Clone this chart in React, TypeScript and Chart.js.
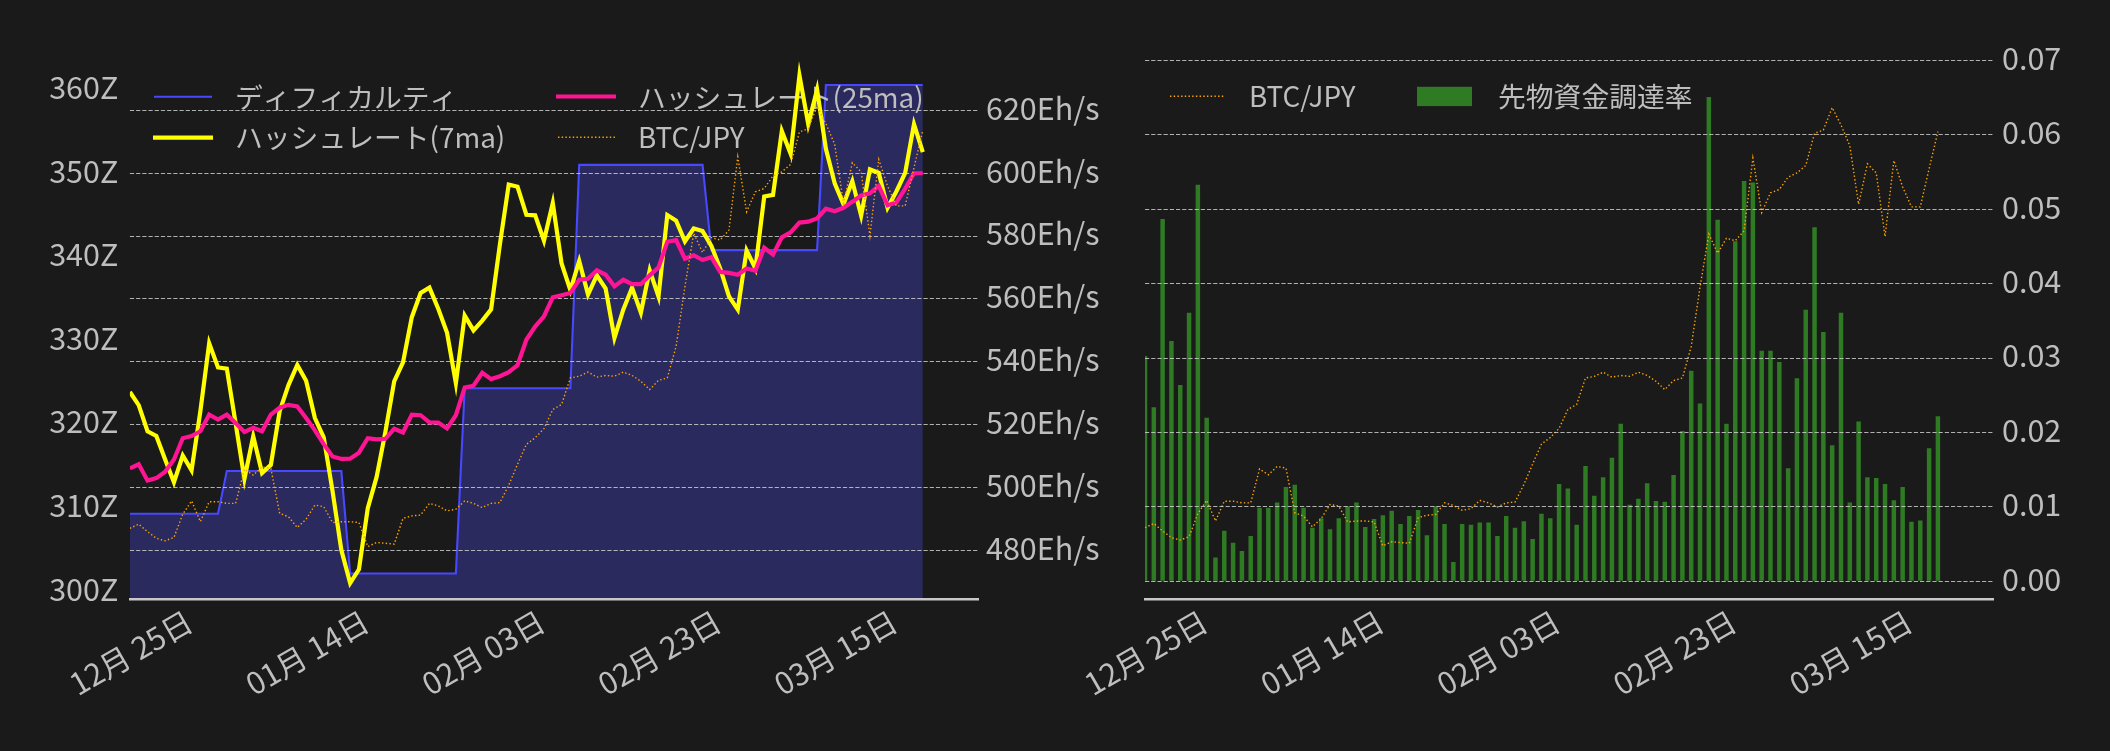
import React, { useEffect, useRef } from "react";
import { Chart, registerables } from "chart.js";

Chart.register(...registerables);

// ---------------- data ----------------
const xTickIdx = [7, 27, 47, 67, 87];
const xTickLabels = ["12月 25日", "01月 14日", "02月 03日", "02月 23日", "03月 15日"];

const difficultyTicks = [300, 310, 320, 330, 340, 350, 360];
const hashTicks = [480, 500, 520, 540, 560, 580, 600, 620];
const fundingTicks = [0, 0.01, 0.02, 0.03, 0.04, 0.05, 0.06, 0.07];

// ディフィカルティ (Z)
const difficulty = [
  309.27, 309.27, 309.27, 309.27, 309.27, 309.27, 309.27, 309.27, 309.27, 309.27,
  309.27, 314.38, 314.38, 314.38, 314.38, 314.38, 314.38, 314.38, 314.38, 314.38,
  314.38, 314.38, 314.38, 314.38, 314.38, 302.12, 302.12, 302.12, 302.12, 302.12,
  302.12, 302.12, 302.12, 302.12, 302.12, 302.12, 302.12, 302.12, 324.28, 324.28,
  324.28, 324.28, 324.28, 324.28, 324.28, 324.28, 324.28, 324.28, 324.28, 324.28,
  324.28, 351.0, 351.0, 351.0, 351.0, 351.0, 351.0, 351.0, 351.0, 351.0,
  351.0, 351.0, 351.0, 351.0, 351.0, 351.0, 340.81, 340.81, 340.81, 340.81,
  340.81, 340.81, 340.81, 340.81, 340.81, 340.81, 340.81, 340.81, 340.81, 360.55,
  360.55, 360.55, 360.55, 360.55, 360.55, 360.55, 360.55, 360.55, 360.55, 360.55,
  360.55,
];

// ハッシュレート(7ma) (Eh/s)
const hashrate7 = [
  530.4, 526.2, 517.9, 516.4, 508.9, 501.7, 510.2, 505.5, 524.3, 545.9,
  538.2, 537.8, 520.4, 502.8, 516.3, 504.6, 507.2, 524.3, 532.6, 539.0,
  534.0, 522.1, 516.0, 498.9, 480.1, 469.6, 474.0, 493.4, 503.3, 517.7,
  533.8, 539.8, 554.2, 561.9, 563.6, 556.9, 549.2, 533.2, 554.7, 550.0,
  553.1, 556.7, 577.4, 596.4, 595.7, 586.8, 586.6, 578.5, 590.5, 571.3,
  562.8, 572.1, 561.4, 567.5, 563.3, 547.6, 556.6, 563.6, 555.6, 569.1,
  560.8, 586.7, 584.9, 578.3, 582.4, 581.6, 576.9, 569.7, 560.8, 556.6,
  575.4, 569.7, 592.6, 593.1, 613.4, 606.2, 631.1, 615.6, 626.6, 607.8,
  596.8, 590.1, 597.5, 586.5, 601.2, 600.1, 589.0, 594.2, 600.1, 615.6,
  606.7,
];

// ハッシュレート(25ma) (Eh/s)
const hashrate25 = [
  506.1, 507.4, 502.2, 503.0, 505.0, 508.9, 515.7, 516.4, 517.9, 523.2,
  521.6, 523.2, 520.5, 517.7, 519.0, 517.9, 523.2, 525.4, 526.3, 525.8,
  522.1, 518.2, 513.8, 509.9, 509.1, 509.2, 511.1, 515.7, 515.3, 515.5,
  518.7, 517.5, 523.2, 523.0, 520.7, 520.7, 518.8, 523.0, 531.8, 532.4,
  536.5, 534.5, 535.4, 536.7, 538.9, 547.0, 551.2, 554.5, 560.5, 561.2,
  561.9, 566.1, 566.4, 569.1, 567.7, 564.0, 566.1, 564.7, 564.7, 567.5,
  570.0, 578.2, 578.7, 572.8, 573.9, 572.4, 573.3, 568.6, 568.3, 567.7,
  569.7, 569.0, 576.3, 574.1, 579.6, 581.2, 584.3, 584.6, 585.6, 588.7,
  587.9, 589.0, 590.9, 592.9, 593.6, 596.0, 589.8, 590.7, 595.1, 600.0,
  600.0,
];

// BTC/JPY
const btcJpy = [
  5850000, 5900000, 5810000, 5730000, 5700000, 5740000, 6020000, 6180000, 5930000, 6170000,
  6170000, 6150000, 6150000, 6560000, 6490000, 6590000, 6570000, 6030000, 5990000, 5860000,
  5960000, 6130000, 6110000, 5920000, 5930000, 5930000, 5920000, 5630000, 5680000, 5670000,
  5660000, 5970000, 6000000, 6010000, 6150000, 6120000, 6060000, 6080000, 6180000, 6150000,
  6100000, 6150000, 6160000, 6370000, 6620000, 6860000, 6940000, 7050000, 7280000, 7340000,
  7660000, 7680000, 7730000, 7670000, 7690000, 7680000, 7730000, 7690000, 7620000, 7520000,
  7630000, 7660000, 8040000, 8760000, 9400000, 9170000, 9350000, 9320000, 9440000, 10320000,
  9660000, 9900000, 9940000, 10090000, 10140000, 10230000, 10620000, 10660000, 10930000, 10720000,
  10470000, 9760000, 10250000, 10140000, 9370000, 10290000, 9970000, 9730000, 9730000, 10190000,
  10640000,
];

// 先物資金調達率
const funding = [
  0.0303, 0.0234, 0.0487, 0.0323, 0.0264, 0.0361, 0.0533, 0.0220, 0.0032, 0.0068,
  0.0052, 0.0041, 0.0061, 0.0099, 0.0099, 0.0106, 0.0127, 0.0130, 0.0099, 0.0072,
  0.0085, 0.0070, 0.0085, 0.0101, 0.0106, 0.0073, 0.0084, 0.0089, 0.0095, 0.0077,
  0.0088, 0.0096, 0.0062, 0.0101, 0.0077, 0.0026, 0.0077, 0.0076, 0.0079, 0.0079,
  0.0061, 0.0088, 0.0072, 0.0081, 0.0057, 0.0091, 0.0085, 0.0131, 0.0125, 0.0076,
  0.0155, 0.0115, 0.0140, 0.0166, 0.0212, 0.0103, 0.0111, 0.0132, 0.0108, 0.0107,
  0.0143, 0.0202, 0.0283, 0.0239, 0.0651, 0.0486, 0.0212, 0.0457, 0.0538, 0.0536,
  0.0310, 0.0310, 0.0295, 0.0152, 0.0273, 0.0365, 0.0476, 0.0335, 0.0183, 0.0361,
  0.0106, 0.0215, 0.0140, 0.0139, 0.0131, 0.0109, 0.0127, 0.0080, 0.0082, 0.0179,
  0.0222,
];

// ---------------- style / layout ----------------
const W = 2110;
const H = 751;
const FONT = "'Noto Sans CJK JP', 'Noto Sans', sans-serif";
const LEGEND_SIZE = 27.8;
const TICK_SIZE = 30.5;
const BG = "#1a1a1a";
const TEXT = "#bebebe";
const AXIS = "#c8c8c8";
const GRID = "rgba(205,205,205,0.85)";
const GRID_DASH = [4.2, 2];
const BLUE = "#4848ff";
const FILL = "rgba(80,80,255,0.3)";
const YELLOW = "#ffff00";
const PINK = "#ff1493";
const ORANGE = "#ffa500";
const GREEN = "#2e7b23";
const DOT = [1.4, 2.3];
const Y_LABEL_SHIFT = -2.3;

const X_MAX = 96.3;
const LEFT_AREA = { left: 129.9, right: 978.3, top: 60.4, bottom: 598.8 };
const RIGHT_AREA = { left: 1145, right: 1993.4, top: 60.4, bottom: 598.8 };

const pts = (arr: number[]) => arr.map((v, i) => ({ x: i, y: v }));
const tickFont = { family: FONT, size: TICK_SIZE };

const xScale = (area: any) => ({
  type: "linear",
  position: "bottom",
  min: 0,
  max: X_MAX,
  offset: false,
  afterFit: (s: any) => {
    s.height = H - area.bottom;
  },
  afterBuildTicks: (s: any) => {
    s.ticks = xTickIdx.map((v) => ({ value: v }));
  },
  grid: { display: false, drawTicks: false, offset: false },
  border: { display: true, color: AXIS, width: 2.5 },
  ticks: {
    color: TEXT,
    font: tickFont,
    autoSkip: false,
    minRotation: 30,
    maxRotation: 30,
    padding: 4.1,
    labelOffset: -2,
    callback: (v: any) => {
      const k = xTickIdx.indexOf(Number(v));
      return k >= 0 ? xTickLabels[k] : "";
    },
  },
});

const lineStyle = (color: string, width: number, dash?: number[]) => ({
  borderColor: color,
  borderWidth: width,
  borderDash: dash || [],
  pointRadius: 0,
  pointHoverRadius: 0,
  tension: 0,
  fill: false,
  clip: 0,
});

function drawHandleLine(ctx: any, x1: number, x2: number, y: number, color: string, width: number, dash?: number[]) {
  ctx.save();
  ctx.strokeStyle = color;
  ctx.lineWidth = width;
  ctx.setLineDash(dash || []);
  ctx.beginPath();
  ctx.moveTo(x1, y);
  ctx.lineTo(x2, y);
  ctx.stroke();
  ctx.restore();
}

function drawLegendText(ctx: any, text: string, x: number, y: number) {
  ctx.save();
  ctx.font = `${LEGEND_SIZE}px ${FONT}`;
  ctx.fillStyle = TEXT;
  ctx.textAlign = "left";
  ctx.textBaseline = "middle";
  ctx.fillText(text, x, y);
  ctx.restore();
}

const leftLegendPlugin = {
  id: "leftLegend",
  afterDatasetsDraw(chart: any) {
    const ctx = chart.ctx;
    drawHandleLine(ctx, 154, 212, 96.7, BLUE, 2.1);
    drawLegendText(ctx, "ディフィカルティ", 235, 97.8);
    drawHandleLine(ctx, 153, 213, 137.7, YELLOW, 4.2);
    drawLegendText(ctx, "ハッシュレート(7ma)", 235, 137.6);
    drawHandleLine(ctx, 556, 616, 96.5, PINK, 4.2);
    drawLegendText(ctx, "ハッシュレート(25ma)", 638, 97.8);
    drawHandleLine(ctx, 558, 615, 137.2, ORANGE, 1.4, DOT);
    drawLegendText(ctx, "BTC/JPY", 638, 137.6);
  },
};

const rightLegendPlugin = {
  id: "rightLegend",
  afterDraw(chart: any) {
    const ctx = chart.ctx;
    drawHandleLine(ctx, 1170, 1224, 96.3, ORANGE, 1.4, DOT);
    drawLegendText(ctx, "BTC/JPY", 1249, 96.3);
    ctx.save();
    ctx.fillStyle = GREEN;
    ctx.fillRect(1417, 86.8, 55, 19.3);
    ctx.restore();
    drawLegendText(ctx, "先物資金調達率", 1498, 96.3);
  },
};

const common = {
  animation: false,
  responsive: false,
  events: [],
};

export default function App() {
  const c1 = useRef<HTMLCanvasElement>(null);
  const c2 = useRef<HTMLCanvasElement>(null);
  const c3 = useRef<HTMLCanvasElement>(null);

  useEffect(() => {
    const charts: any[] = [];

    // Left panel, lower layer: difficulty + left axis + legend
    charts.push(
      new Chart(c1.current as any, {
        type: "line",
        data: {
          datasets: [
            {
              label: "ディフィカルティ",
              data: pts(difficulty),
              yAxisID: "y",
              ...lineStyle(BLUE, 2.1),
              fill: "start",
              backgroundColor: FILL,
            } as any,
          ],
        },
        options: {
          ...common,
          layout: {
            padding: { left: 0, top: LEFT_AREA.top, right: W - LEFT_AREA.right, bottom: H - LEFT_AREA.bottom },
          },
          plugins: { legend: { display: false }, tooltip: { enabled: false } },
          scales: {
            x: { type: "linear", min: 0, max: X_MAX, display: false },
            y: {
              type: "linear",
              position: "left",
              min: 299.1,
              max: 363.5,
              afterFit: (s: any) => {
                s.width = LEFT_AREA.left;
              },
              afterBuildTicks: (s: any) => {
                s.ticks = difficultyTicks.map((v) => ({ value: v }));
              },
              grid: { display: false, drawTicks: false },
              border: { display: false },
              ticks: {
                color: TEXT,
                font: tickFont,
                padding: 11.6,
                labelOffset: Y_LABEL_SHIFT,
                callback: (v: any) => `${v}Z`,
              },
            },
          },
        } as any,
        plugins: [leftLegendPlugin],
      })
    );

    // Left panel, upper layer: hashrate + BTC + grid + x axis
    charts.push(
      new Chart(c2.current as any, {
        type: "line",
        data: {
          datasets: [
            { label: "BTC/JPY", data: pts(btcJpy), yAxisID: "yb", order: 0, ...lineStyle(ORANGE, 1.4, DOT) } as any,
            { label: "ハッシュレート(25ma)", data: pts(hashrate25), yAxisID: "y1", order: 1, ...lineStyle(PINK, 4.2) } as any,
            { label: "ハッシュレート(7ma)", data: pts(hashrate7), yAxisID: "y1", order: 2, ...lineStyle(YELLOW, 4.2) } as any,
          ],
        },
        options: {
          ...common,
          layout: { padding: { left: LEFT_AREA.left, top: LEFT_AREA.top, right: 0, bottom: 0 } },
          plugins: { legend: { display: false }, tooltip: { enabled: false } },
          scales: {
            x: xScale(LEFT_AREA),
            y1: {
              type: "linear",
              position: "right",
              min: 464.6,
              max: 635.9,
              afterFit: (s: any) => {
                s.width = W - LEFT_AREA.right;
              },
              afterBuildTicks: (s: any) => {
                s.ticks = hashTicks.map((v) => ({ value: v }));
              },
              grid: { color: GRID, lineWidth: 1.1, drawTicks: false },
              border: { display: false, dash: GRID_DASH },
              ticks: {
                color: TEXT,
                font: tickFont,
                padding: 7.7,
                labelOffset: Y_LABEL_SHIFT,
                callback: (v: any) => `${v}Eh/s`,
              },
            },
            yb: { type: "linear", display: false, min: 5002000, max: 11481000 },
          },
        } as any,
      })
    );

    // Right panel: funding bars + BTC
    charts.push(
      new Chart(c3.current as any, {
        type: "bar",
        data: {
          datasets: [
            { type: "line", label: "BTC/JPY", data: pts(btcJpy), yAxisID: "yb", order: 0, ...lineStyle(ORANGE, 1.4, DOT) } as any,
            {
              type: "bar",
              label: "先物資金調達率",
              data: pts(funding),
              yAxisID: "y",
              order: 1,
              backgroundColor: GREEN,
              borderWidth: 0,
              barPercentage: 0.51,
              categoryPercentage: 1,
              clip: 0,
            } as any,
          ],
        },
        options: {
          ...common,
          layout: { padding: { left: RIGHT_AREA.left, top: RIGHT_AREA.top, right: 0, bottom: 0 } },
          plugins: { legend: { display: false }, tooltip: { enabled: false } },
          scales: {
            x: xScale(RIGHT_AREA),
            y: {
              type: "linear",
              position: "right",
              min: -0.002338,
              max: 0.070013,
              afterFit: (s: any) => {
                s.width = W - RIGHT_AREA.right;
              },
              afterBuildTicks: (s: any) => {
                s.ticks = fundingTicks.map((v) => ({ value: v }));
              },
              grid: { color: GRID, lineWidth: 1.1, drawTicks: false, z: 1 },
              border: { display: false, dash: GRID_DASH },
              ticks: {
                color: TEXT,
                font: tickFont,
                padding: 8.6,
                labelOffset: Y_LABEL_SHIFT,
                callback: (v: any) => Number(v).toFixed(2),
              },
            },
            yb: { type: "linear", display: false, min: 4989600, max: 11501200 },
          },
        } as any,
        plugins: [rightLegendPlugin],
      })
    );

    return () => {
      charts.forEach((c) => c.destroy());
    };
  }, []);

  const canvasStyle: React.CSSProperties = {
    position: "absolute",
    left: 0,
    top: 0,
    width: `${W}px`,
    height: `${H}px`,
  };

  return (
    <div
      style={{
        position: "absolute",
        left: 0,
        top: 0,
        width: `${W}px`,
        height: `${H}px`,
        background: BG,
        overflow: "hidden",
      }}
    >
      <canvas ref={c1} width={W} height={H} style={canvasStyle} />
      <canvas ref={c2} width={W} height={H} style={canvasStyle} />
      <canvas ref={c3} width={W} height={H} style={canvasStyle} />
    </div>
  );
}
